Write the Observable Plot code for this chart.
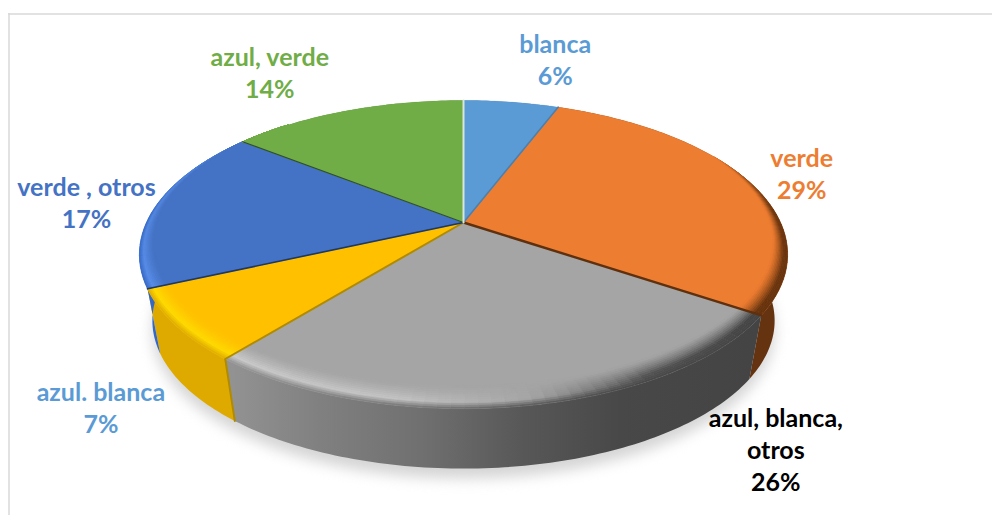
<!DOCTYPE html>
<html>
<head>
<meta charset="utf-8">
<style>html,body{margin:0;padding:0;background:#fff}svg{display:block}</style>
<script src="https://cdn.jsdelivr.net/npm/d3@7"></script>
<script src="https://cdn.jsdelivr.net/npm/@observablehq/plot@0.6"></script>
</head>
<body>
<div id="chart"></div>
<script>
// DATA
const categories = ["blanca", "verde", "azul, blanca,\notros", "azul. blanca", "verde , otros", "azul, verde"];
const shares = [5.8, 28.6, 26.45, 7.4, 17.35, 14.4];

// STYLE
const topColors = ["#5B9BD5", "#ED7D31", "#A5A5A5", "#FFC000", "#4472C4", "#70AD47"];
const highlightColors = ["#5B9BD5", "#ED7D31", "#D2D2D2", "#FFDE00", "#5C92EE", "#70AD47"];
const shadeColors = ["#3F6F9C", "#65330F", "#444444", "#A88400", "#2C4A80", "#4E7A30"];
const wallFills = ["#3F6F9C", "#65330F", "url(#greyWall)", "#DFAA00", "#3568C4", "#4E7A30"];
const labelColors = ["#5B9BD5", "#ED7D31", "#000000", "#5B9BD5", "#4472C4", "#70AD47"];
const edgeColors = ["#4A80B0", "#5F300E", "#B08A00", "#1F3864", "#2F4F2A", "#D8E6DC"];
const edgeWidths = [1.6, 2.4, 2, 1.6, 1.2, 2];
const labelOffsets = [[44, -43], [54, -8], [253, 43], [-75, 81], [-70, -3], [-77, -39.5]];
const greyStops = [[232, "#929292"], [320, "#808080"], [420, "#707070"], [520, "#585858"], [620, "#484848"], [752, "#444444"]];

// GEOMETRY: a perspective disc seen from above
const cx = 463, cy = 222, a = 317, b = 147.4, p = 0.208, floorY = 289.4, floorScale = 0.96, step = 1;
const rad = d => d * Math.PI / 180;
const topRim = (t, r = 1) => {
  const u = Math.sin(rad(t)) * r, v = Math.cos(rad(t)) * r, d = 1 + p * v;
  return [cx + a * u / d, cy - b * v / d];
};
const floorRim = t => {
  const u = Math.sin(rad(t)), v = Math.cos(rad(t)), d = 1 + p * v;
  return [cx + floorScale * a * u / d, floorY - floorScale * b * v / d];
};
const total = d3.sum(shares);
let acc = 0;
const slices = shares.map((s, i) => {
  const start = acc / total * 360; acc += s;
  return {i, start, end: acc / total * 360};
});
const arc = (s, f = topRim) => {
  const out = [];
  for (let t = s.start; t < s.end; t += step) out.push(f(t));
  out.push(f(s.end));
  return out;
};
const pts = (list, id, color) => list.map(([x, y]) => ({id, x, y, color}));

const wallMarks = slices.map(s => Plot.line(
  [...arc(s), ...arc(s, floorRim).reverse()].map(([x, y]) => ({x, y})),
  {x: "x", y: "y", fill: wallFills[s.i], stroke: "none"}
));
const topCells = slices.flatMap(s => pts([[cx, cy], ...arc(s)], `t${s.i}`, topColors[s.i]));

// bevelled rim: bands that run inwards along the radius, so they stay inside their slice
const light = d3.scaleLinear().domain([60, 85, 125, 150, 170, 190, 220, 245, 290, 320]).range([0, -.9, -1, -.85, 0, .7, .85, .9, .6, 0]).clamp(true);
const bevelWidth = t => Math.pow(Math.max(0, Math.min(1, (-Math.cos(rad(t)) + .7) / 1.7)), 1.2);
const bevelPoint = (t, k) => topRim(t, 1 - .1 * bevelWidth(t) * k);
const greyWallScale = d3.scaleLinear().domain(greyStops.map(d => d[0])).range(greyStops.map(d => d[1])).clamp(true);
const wallTone = (i, x) => i === 2 ? greyWallScale(x) : wallFills[i];
const peak = .3;
const bevelCells = [];
const levels = 12, bevelStep = 2;
for (const s of slices) {
  for (let t = s.start; t < s.end; t += bevelStep) {
    const t2 = Math.min(t + bevelStep, s.end), tm = (t + t2) / 2, I = light(tm);
    if (Math.abs(I) < .01 && (tm < 60 || tm > 320)) continue;
    const target = I > 0 ? highlightColors[s.i] : shadeColors[s.i];
    const wallStrength = Math.min(1, bevelWidth(tm) * 3);
    for (let k = 0; k < levels; k++) {
      const k1 = k / levels, k2 = (k + 1) / levels, km = (k1 + k2) / 2;
      const profile = km < peak ? 1 : Math.pow((1 - km) / (1 - peak), 1.3);
      let color = d3.interpolateRgb(topColors[s.i], target)(Math.abs(I) * profile);
      if (km < peak) color = d3.interpolateRgb(color, wallTone(s.i, bevelPoint(tm, 0)[0]))(wallStrength * (1 - km / peak));
      bevelCells.push(...pts([bevelPoint(t, k1), bevelPoint(t2, k1), bevelPoint(t2, k2), bevelPoint(t, k2)], `b${s.i}-${t}-${k}`, color));
    }
  }
}
const seam = slices[2];
const seamCells = pts([topRim(seam.end), floorRim(seam.end)], "seam", "#B08A00");
const shadowCells = pts(d3.range(0, 360, 4).map(t => { const [x, y] = floorRim(t); return [x, y + 10]; }), "shadow", "#d4d4d4");

const poly = (data, width = .6) => Plot.line(data, {x: "x", y: "y", z: "id", fill: "color", stroke: "color", strokeWidth: width});
const edgeMarks = slices.map(s => poly(pts([[cx, cy], topRim(s.end)], `e${s.i}`, edgeColors[s.i]), edgeWidths[s.i]));

const labelMarks = slices.map(s => {
  const [x, y] = topRim((s.start + s.end) / 2);
  const [dx, dy] = labelOffsets[s.i];
  return Plot.text([`${categories[s.i]}\n${Math.round(shares[s.i])}%`], {
    x: () => x, y: () => y, text: d => d, dx, dy, fill: labelColors[s.i],
    fontFamily: "Lato", fontWeight: 700, fontSize: 25, lineHeight: 1.28, lineAnchor: "middle", textAnchor: "middle"
  });
});

// gradient definition used by the grey slice's wall
const gradientDefs = () => {
  const ns = "http://www.w3.org/2000/svg";
  const defs = document.createElementNS(ns, "defs");
  const g = document.createElementNS(ns, "linearGradient");
  g.setAttribute("id", "greyWall");
  g.setAttribute("gradientUnits", "userSpaceOnUse");
  g.setAttribute("x1", greyStops[0][0]); g.setAttribute("x2", greyStops[greyStops.length - 1][0]);
  g.setAttribute("y1", 0); g.setAttribute("y2", 0);
  const span = greyStops[greyStops.length - 1][0] - greyStops[0][0];
  for (const [x, c] of greyStops) {
    const st = document.createElementNS(ns, "stop");
    st.setAttribute("offset", (x - greyStops[0][0]) / span);
    st.setAttribute("stop-color", c);
    g.append(st);
  }
  defs.append(g);
  return defs;
};

const chart = Plot.plot({
  width: 992, height: 515,
  marginTop: 0, marginRight: 0, marginBottom: 0, marginLeft: 0,
  x: {domain: [0, 992], range: [0, 992], axis: null},
  y: {domain: [0, 515], range: [0, 515], axis: null},
  color: {type: "identity"},
  style: {background: "#fff"},
  marks: [
    gradientDefs,
    Plot.ruleY([13.5], {x1: 8, x2: 992, stroke: "#D9D9D9", strokeWidth: 1.5}),
    Plot.ruleX([8.5], {y1: 13, y2: 515, stroke: "#D9D9D9", strokeWidth: 1.5}),
    Plot.line(shadowCells, {x: "x", y: "y", z: "id", fill: "color", stroke: "none", imageFilter: "blur(7px)"}),
    ...wallMarks,
    poly(seamCells, 2),
    poly(topCells, .3),
    poly(bevelCells),
    ...edgeMarks,
    ...labelMarks
  ]
});
document.getElementById("chart").append(chart);
</script>
</body>
</html>
